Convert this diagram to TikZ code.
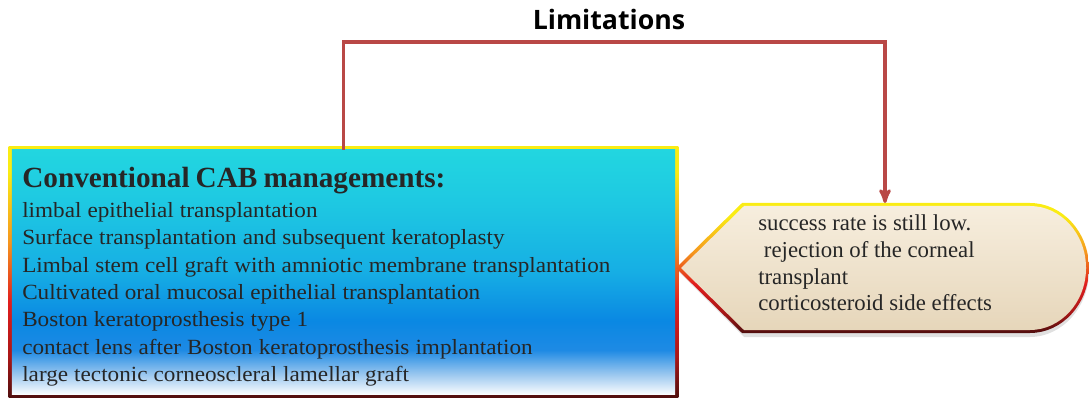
\documentclass[tikz,border=0pt]{standalone}
\usepackage{fontspec}
\setmainfont{Liberation Serif}
\newfontfamily\headfont{Open Sans}
\newfontfamily\wideserif[FakeStretch=1.07]{Liberation Serif}
\usetikzlibrary{arrows,backgrounds}

\definecolor{linkred}{RGB}{185,72,70}
\definecolor{cyantop}{RGB}{34,214,224}
\definecolor{cyanmid}{RGB}{30,200,226}
\definecolor{bluecyan}{RGB}{22,174,228}
\definecolor{bluedeep}{RGB}{10,136,227}
\definecolor{bluemid}{RGB}{30,138,228}
\definecolor{bluelight}{RGB}{156,200,239}
\definecolor{rimyellow}{RGB}{250,236,20}
\definecolor{rimorange}{RGB}{245,150,30}
\definecolor{rimred}{RGB}{225,30,30}
\definecolor{rimdark}{RGB}{80,14,14}
\definecolor{beigetop}{RGB}{247,238,222}
\definecolor{beigebot}{RGB}{230,214,186}

\pgfdeclareverticalshading{cabfill}{100bp}{color(0bp)=(white); color(25bp)=(white!94!bluelight); color(29bp)=(bluelight); color(34bp)=(bluemid); color(40bp)=(bluedeep); color(50bp)=(bluecyan); color(64bp)=(cyanmid); color(75bp)=(cyantop); color(100bp)=(cyantop)}
\pgfdeclareverticalshading{rim}{100bp}{color(0bp)=(rimdark); color(25bp)=(rimdark); color(33bp)=(rimred!75!black); color(44bp)=(rimred); color(56bp)=(rimorange); color(70bp)=(rimyellow); color(100bp)=(rimyellow)}

\newcommand\bodyfont{\wideserif\fontsize{15.4}{19.4}\selectfont\spaceskip 0.28em\relax}
\newcommand\limsfont{\fontsize{16.2}{19}\selectfont}

\begin{document}
\begin{tikzpicture}[x=0.025cm,y=-0.025cm,>=stealth']
        \tikzstyle{cabbox}=[rectangle,shade,shading=cabfill,minimum width=16.575cm,minimum height=6.1cm,inner sep=0pt]
        \tikzstyle{body}=[inner sep=0pt,align=left,text=black!85,font=\bodyfont]
        \tikzstyle{link}=[->,draw=linkred,line width=2.2pt]
        \useasboundingbox (0,0) rectangle (1089,399);

        \node [cabbox] (cab) at (343.5,272) {}; %managements box
        \node [body,anchor=north west] (cabtxt) at (22,167) {{\rmfamily\fontsize{20.8}{22}\selectfont\bfseries Conventional CAB managements:}\\[2pt]
            limbal epithelial transplantation\\
            Surface transplantation and subsequent keratoplasty\\
            Limbal stem cell graft with amniotic membrane transplantation\\
            Cultivated oral mucosal epithelial transplantation\\
            Boston keratoprosthesis type 1\\
            contact lens after Boston keratoprosthesis implantation\\
            large tectonic corneoscleral lamellar graft};
        \node [body,font=\limsfont,anchor=north west] (lims) at (758,214.5) {success rate is still low.\\
            \ rejection of the corneal\\
            transplant\\
            corticosteroid side effects}; %limitations list

        \coordinate (bend) at (885,42);
        \coordinate (tip) at (885,203);
        \draw [link] (cab.north) |- (bend) -- (tip);
        \node [font={\headfont\bfseries\fontsize{19}{22}\selectfont},anchor=base] (limtitle) at (609,30) {Limitations};

        \begin{scope}[on background layer]
            \shade [shading=rim] ([shift={(-3,-3)}]cab.north west) rectangle ([shift={(3,3)}]cab.south east); %rim
            \fill [black,opacity=0.12] (678,271) -- (744,206) -- (1030,206) .. controls (1062,206) and (1089,235) .. (1089,271) .. controls (1089,307) and (1062,337) .. (1030,337) -- (744,337) -- cycle; %shadow
            \shade [shading=rim] (676,268) -- (742,203) -- (1030,203) .. controls (1062,203) and (1089,232) .. (1089,268) .. controls (1089,304) and (1062,333) .. (1030,333) -- (742,333) -- cycle;
            \shade [top color=beigetop,bottom color=beigebot] (681,268) -- (744,206) -- (1030,206) .. controls (1060,206) and (1086,233) .. (1086,268) .. controls (1086,303) and (1060,330) .. (1030,330) -- (744,330) -- cycle;
        \end{scope}
    \end{tikzpicture}
\end{document}
